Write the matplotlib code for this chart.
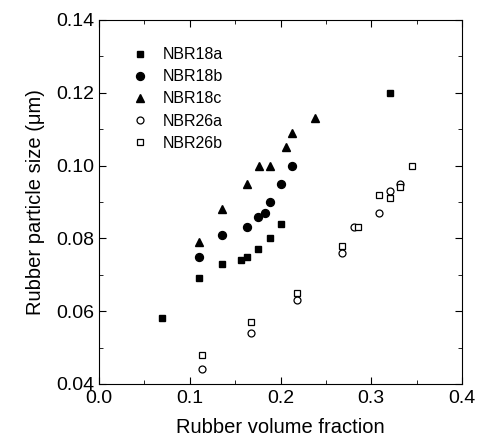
import matplotlib.pyplot as plt
from matplotlib.ticker import MultipleLocator

plt.rcParams['font.family'] = ['Liberation Sans', 'DejaVu Sans']

# NBR18a (filled squares)
x_18a = [0.069, 0.110, 0.136, 0.156, 0.163, 0.175, 0.188, 0.201, 0.321]
y_18a = [0.058, 0.069, 0.073, 0.074, 0.075, 0.077, 0.080, 0.084, 0.120]
# NBR18b (filled circles)
x_18b = [0.110, 0.136, 0.163, 0.175, 0.183, 0.188, 0.201, 0.213]
y_18b = [0.075, 0.081, 0.083, 0.086, 0.087, 0.090, 0.095, 0.100]
# NBR18c (filled triangles)
x_18c = [0.110, 0.136, 0.163, 0.176, 0.188, 0.206, 0.213, 0.238]
y_18c = [0.079, 0.088, 0.095, 0.100, 0.100, 0.105, 0.109, 0.113]
# NBR26a (open circles)
x_26a = [0.114, 0.167, 0.218, 0.268, 0.281, 0.309, 0.321, 0.332]
y_26a = [0.044, 0.054, 0.063, 0.076, 0.083, 0.087, 0.093, 0.095]
# NBR26b (open squares)
x_26b = [0.114, 0.167, 0.218, 0.268, 0.285, 0.309, 0.321, 0.332, 0.345]
y_26b = [0.048, 0.057, 0.065, 0.078, 0.083, 0.092, 0.091, 0.094, 0.100]

fig = plt.figure(figsize=(4.78, 4.42), dpi=100)
ax = fig.add_axes([99 / 478, 1 - 384 / 442, 363 / 478, 364 / 442])

ax.plot(x_18a, y_18a, 's', color='black', ms=4.2, ls='none', label='NBR18a')
ax.plot(x_18b, y_18b, 'o', color='black', ms=5.7, ls='none', label='NBR18b')
ax.plot(x_18c, y_18c, '^', color='black', ms=5.7, ls='none', label='NBR18c')
ax.plot(x_26a, y_26a, 'o', mfc='white', mec='black', mew=0.9, ms=5, ls='none', label='NBR26a')
ax.plot(x_26b, y_26b, 's', mfc='white', mec='black', mew=0.9, ms=4, ls='none', label='NBR26b')

ax.set_xlim(0.0, 0.4)
ax.set_ylim(0.04, 0.14)
ax.xaxis.set_major_locator(MultipleLocator(0.1))
ax.xaxis.set_minor_locator(MultipleLocator(0.05))
ax.yaxis.set_major_locator(MultipleLocator(0.02))
ax.yaxis.set_minor_locator(MultipleLocator(0.01))
ax.xaxis.set_major_formatter(lambda v, p: f'{v:.1f}')
ax.yaxis.set_major_formatter(lambda v, p: f'{v:.2f}')
ax.tick_params(which='both', direction='in', top=True, right=True, labelsize=14)
ax.tick_params(which='major', length=5)
ax.tick_params(which='minor', length=3)
ax.tick_params(axis='x', pad=4)

ax.set_xlabel('Rubber volume fraction', fontsize=14.5, labelpad=8)
ax.set_ylabel('Rubber particle size (\u03bcm)', fontsize=14.5, labelpad=8)

ax.legend(loc='upper left', bbox_to_anchor=(0.04, 0.965), frameon=False,
          fontsize=11.5, handletextpad=0.7, labelspacing=0.45, handlelength=1.5)

fig.savefig('out.png', dpi=100)
